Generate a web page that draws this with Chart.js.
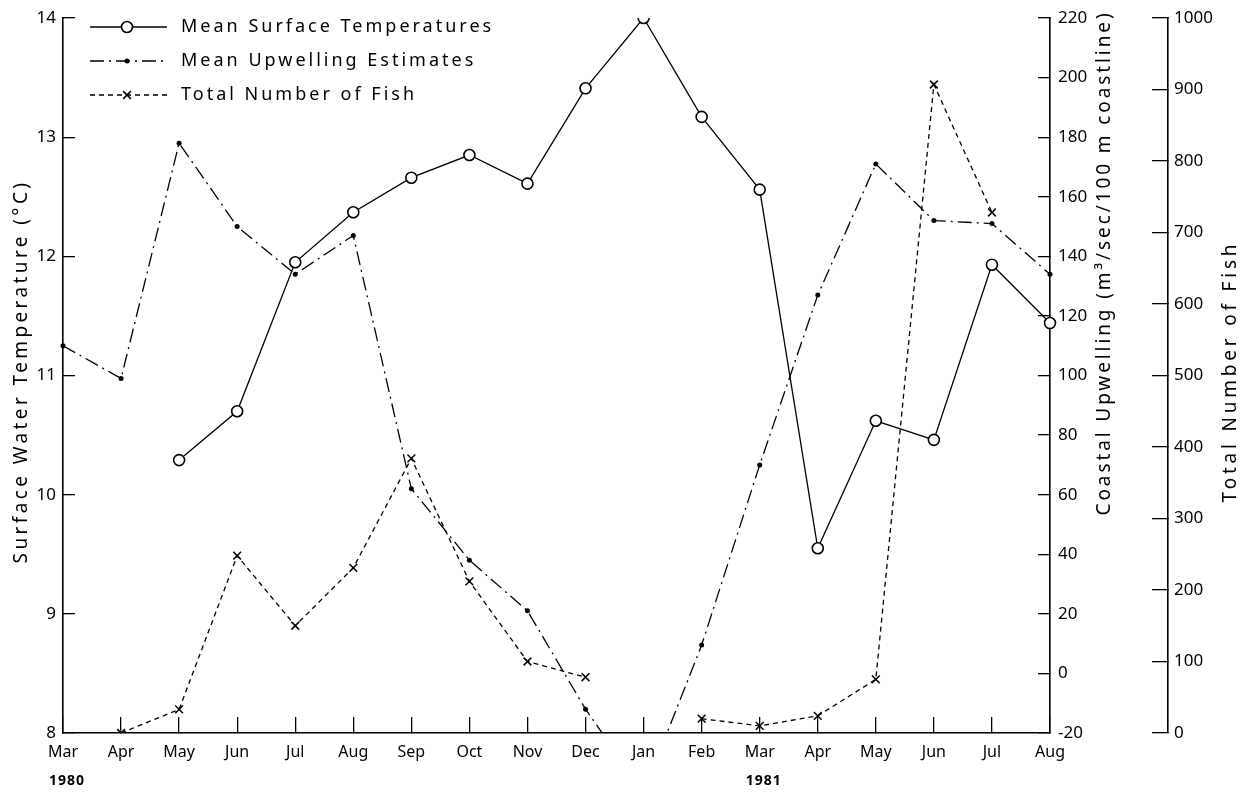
<!DOCTYPE html>
<html>
<head>
<meta charset="utf-8">
<script src="https://cdn.jsdelivr.net/npm/chart.js@4.4.1/dist/chart.umd.min.js"></script>
<style>
  html, body { margin: 0; padding: 0; background: #fff; }
  #wrap { width: 1247px; height: 793px; }
</style>
</head>
<body>
<div id="wrap"><canvas id="chart" width="1247" height="793"></canvas></div>
<script>
// months from March 1980 to August 1981
const months = ['Mar', 'Apr', 'May', 'Jun', 'Jul', 'Aug', 'Sep', 'Oct', 'Nov', 'Dec',
                'Jan', 'Feb', 'Mar', 'Apr', 'May', 'Jun', 'Jul', 'Aug'];
const yearLabels = ['1980', '1981'];
const yearAtMonth = [0, 12];

const seriesNames = ['Mean Surface Temperatures', 'Mean Upwelling Estimates', 'Total Number of Fish'];

// degrees C
const temperature = [null, null, 10.29, 10.70, 11.95, 12.37, 12.66, 12.85, 12.61, 13.41,
                     14.0, 13.17, 12.56, 9.55, 10.62, 10.46, 11.93, 11.44];
// m3/sec/100 m coastline (Jan 1981 runs off the bottom of the axis)
const upwelling = [110, 99, 178, 150, 134, 147, 62, 38, 21, -12,
                   -40, 9.5, 70, 127, 171, 152, 151, 134];
// number of fish
const fish = [null, 0, 33, 248, 150, 231, 384, 212, 100, 78,
              null, 20, 10, 24, 75, 907, 728, null];

const tempTicks = [8, 9, 10, 11, 12, 13, 14];
const upwellingTicks = [-20, 0, 20, 40, 60, 80, 100, 120, 140, 160, 180, 200, 220];
const fishTicks = [0, 100, 200, 300, 400, 500, 600, 700, 800, 900, 1000];

const tempTitle = 'Surface Water Temperature (°C)';
const upwellingTitle = 'Coastal Upwelling (m³/sec/100 m coastline)';
const fishTitle = 'Total Number of Fish';

const FONT = '"Noto Sans", sans-serif';

// fixed width, and no extra top/bottom padding from the tick padding
function fixWidth(w) {
  return s => { s.width = w; s.paddingTop = 0; s.paddingBottom = 0; };
}

function axisOpts(ticks, tickLen, pad, extra) {
  return Object.assign({
    min: ticks[0],
    max: ticks[ticks.length - 1],
    grid: { drawOnChartArea: false, tickLength: tickLen, color: '#000', lineWidth: 1.3 },
    border: { color: '#000', width: 1.6 },
    ticks: {
      stepSize: ticks[1] - ticks[0], color: '#000', padding: pad,
      font: { family: FONT, size: 17 },
      callback: v => String(v)
    }
  }, extra);
}

function drawRotated(ctx, text, cx, cy, size, spacing) {
  ctx.save();
  ctx.translate(cx, cy);
  ctx.rotate(-Math.PI / 2);
  ctx.font = size + 'px ' + FONT;
  ctx.letterSpacing = spacing + 'px';
  ctx.textAlign = 'center';
  ctx.textBaseline = 'middle';
  ctx.fillText(text, 0, 0);
  ctx.restore();
}

// titles, years and the legend drawn straight onto the canvas
const decor = {
  id: 'decor',
  afterDraw(chart) {
    const { ctx, chartArea: area, scales } = chart;
    ctx.save();
    ctx.fillStyle = '#000';
    ctx.strokeStyle = '#000';

    const midY = (area.top + area.bottom) / 2;
    drawRotated(ctx, tempTitle, scales.y.left + 22, midY - 4, 19, 3.4);
    drawRotated(ctx, upwellingTitle, scales.y1.left + 55, area.top + 245, 19, 2.9);
    drawRotated(ctx, fishTitle, scales.y2.left + 63, midY - 4, 19, 3.8);

    ctx.font = 'bold 14px ' + FONT;
    ctx.letterSpacing = '1px';
    ctx.textAlign = 'center';
    ctx.textBaseline = 'middle';
    yearLabels.forEach((yr, i) => {
      ctx.fillText(yr, scales.x.getPixelForValue(yearAtMonth[i]) + 4, scales.x.bottom - 12);
    });

    // legend
    chart.data.datasets.forEach((ds, i) => {
      const y = area.top + 9 + i * 34;
      const x0 = area.left + 27, x1 = area.left + 104, xm = area.left + 64;
      ctx.save();
      ctx.lineWidth = ds.borderWidth;
      ctx.setLineDash(ds.borderDash || []);
      ctx.beginPath();
      ctx.moveTo(x0, y);
      ctx.lineTo(x1, y);
      ctx.stroke();
      ctx.setLineDash([]);
      ctx.fillStyle = ds.pointBackgroundColor || '#000';
      ctx.lineWidth = ds.pointBorderWidth;
      Chart.helpers.drawPoint(ctx, {
        pointStyle: ds.pointStyle || 'circle',
        radius: ds.pointRadius,
        borderWidth: ds.pointBorderWidth,
        rotation: 0
      }, xm, y);
      ctx.restore();

      ctx.font = '18px ' + FONT;
      ctx.letterSpacing = '3px';
      ctx.textAlign = 'left';
      ctx.textBaseline = 'middle';
      ctx.fillText(ds.label, area.left + 118, y);
    });
    ctx.restore();
  }
};

new Chart(document.getElementById('chart'), {
  type: 'line',
  data: {
    labels: months,
    datasets: [
      {
        label: seriesNames[0], data: temperature, yAxisID: 'y',
        borderColor: '#000', borderWidth: 1.3, tension: 0,
        pointRadius: 5.5, pointBackgroundColor: '#fff', pointBorderColor: '#000', pointBorderWidth: 1.6
      },
      {
        label: seriesNames[1], data: upwelling, yAxisID: 'y1',
        borderColor: '#000', borderWidth: 1.3, borderDash: [14, 5, 2, 5], tension: 0,
        pointRadius: 2.5, pointBackgroundColor: '#000', pointBorderColor: '#000', pointBorderWidth: 0,
        clip: { left: 4, right: 4, top: 4, bottom: 0 }
      },
      {
        label: seriesNames[2], data: fish, yAxisID: 'y2',
        borderColor: '#000', borderWidth: 1.3, borderDash: [5, 4], tension: 0,
        pointStyle: 'crossRot', pointRadius: 5.5, pointBorderColor: '#000', pointBorderWidth: 1.5
      }
    ]
  },
  options: {
    responsive: false,
    animation: false,
    layout: { padding: { top: 18, left: 0, right: 0, bottom: 0 } },
    plugins: { legend: { display: false }, tooltip: { enabled: false } },
    scales: {
      x: {
        offset: false,
        grid: { drawOnChartArea: false, tickLength: -16, color: '#000', lineWidth: 1.3 },
        border: { color: '#000', width: 1.6 },
        ticks: { color: '#000', padding: 26, autoSkip: false, maxRotation: 0, font: { family: FONT, size: 16 } },
        afterFit: s => { s.height = 60; s.paddingLeft = 0; s.paddingRight = 0; }
      },
      y: axisOpts(tempTicks, -12, 19, { position: 'left', afterFit: fixWidth(63) }),
      y1: axisOpts(upwellingTicks, -12, 20, { position: 'right', weight: 0, afterFit: fixWidth(118) }),
      y2: axisOpts(fishTicks, -16, 22, { position: 'right', weight: 1, afterFit: fixWidth(79) })
    }
  },
  plugins: [decor]
});
</script>
</body>
</html>
